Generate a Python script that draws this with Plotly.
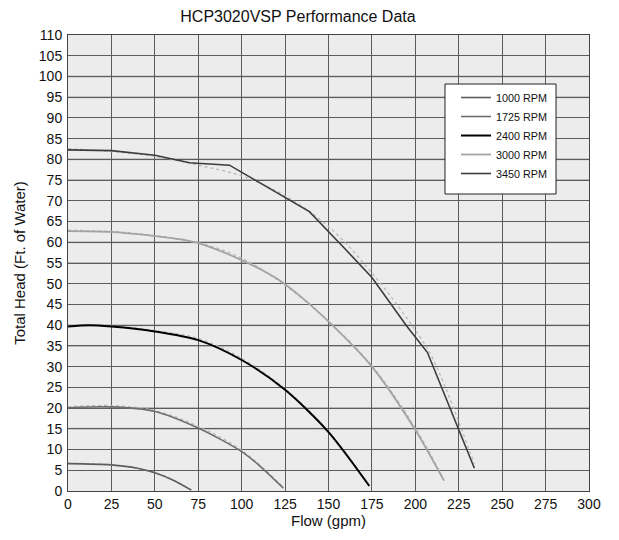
import plotly.graph_objects as go

# ---- data ----
flow_1000 = [0, 25, 40, 50, 60, 71]
head_1000 = [6.6, 6.3, 5.5, 4.4, 2.7, 0.2]
flow_1000_fit = [0, 20, 40, 55, 71]
head_1000_fit = [6.7, 6.4, 5.4, 3.7, 0.3]

flow_1725 = [0, 25, 50, 75, 100, 110, 124]
head_1725 = [20.1, 20.3, 19.2, 15.2, 9.5, 6.2, 0.7]
flow_1725_fit = [0, 25, 50, 75, 100, 124]
head_1725_fit = [20.3, 20.6, 19.4, 15.6, 9.8, 0.9]

flow_2400 = [0, 12, 25, 50, 75, 100, 125, 150, 173.5]
head_2400 = [39.7, 40.0, 39.7, 38.5, 36.4, 31.6, 24.4, 14.2, 1.2]
flow_2400_fit = [0, 25, 50, 75, 100, 125, 150, 173]
head_2400_fit = [40.0, 39.8, 38.7, 36.8, 32.0, 24.6, 14.4, 1.5]

flow_3000 = [0, 25, 50, 65, 75, 100, 120, 134, 151, 175, 200, 216.5]
head_3000 = [62.7, 62.5, 61.5, 60.7, 59.8, 55.7, 51.3, 46.9, 40.5, 30.0, 14.7, 2.5]
flow_3000_fit = [0, 25, 50, 75, 100, 125, 150, 175, 200, 216]
head_3000_fit = [62.9, 62.6, 61.6, 59.9, 56.2, 49.6, 40.9, 30.2, 15.2, 3.0]

flow_3450 = [0, 25, 50, 70, 93, 115, 139, 160, 175, 195, 207, 234]
head_3450 = [82.3, 82.1, 81.0, 79.2, 78.6, 73.3, 67.4, 58.2, 51.5, 39.8, 33.4, 5.5]
flow_3450_fit = [0, 25, 50, 75, 100, 125, 150, 175, 200, 210, 234]
head_3450_fit = [82.6, 81.9, 80.7, 78.6, 76.0, 71.2, 63.8, 52.6, 38.8, 32.0, 6.5]

series_names = ["1000 RPM", "1725 RPM", "2400 RPM", "3000 RPM", "3450 RPM"]
series_colors = ["#5e5e5e", "#6e6e6e", "#000000", "#a3a3a3", "#3c3c3c"]

x_ticks = list(range(0, 301, 25))
y_ticks = list(range(0, 111, 5))
y_light = [15, 20, 35, 40, 55, 60, 75, 80, 95, 100]

FONT = "Liberation Sans, Arial, Helvetica, sans-serif"

fig = go.Figure()

# dotted companion curves
fits = [(flow_1000_fit, head_1000_fit), (flow_1725_fit, head_1725_fit),
        (flow_2400_fit, head_2400_fit), (flow_3000_fit, head_3000_fit),
        (flow_3450_fit, head_3450_fit)]
for fx, fy in fits:
    fig.add_trace(go.Scatter(x=fx, y=fy, mode="lines", showlegend=False,
                             hoverinfo="skip",
                             line=dict(color="#b8b8b8", width=1.3, dash="dot", shape="spline")))

solid = [(flow_1000, head_1000), (flow_1725, head_1725), (flow_2400, head_2400),
         (flow_3000, head_3000), (flow_3450, head_3450)]
widths = [1.6, 1.6, 2, 1.8, 1.6]
shapes = ["spline", "spline", "spline", "spline", "linear"]
for (fx, fy), name, col, w, sh in zip(solid, series_names, series_colors, widths, shapes):
    fig.add_trace(go.Scatter(x=fx, y=fy, mode="lines", name=name,
                             line=dict(color=col, width=w, shape=sh, smoothing=0.8)))

# light (anti-aliased look) horizontal grid lines
for v in y_light:
    fig.add_shape(type="line", xref="paper", x0=0, x1=1, yref="y", y0=v, y1=v,
                  layer="between", line=dict(color="#b8b8b8", width=2))

# legend frame
fig.add_shape(type="rect", xref="paper", yref="paper",
              x0=0.7236, x1=0.9367, y0=0.6513, y1=0.8925,
              layer="above", fillcolor="white", line=dict(color="#222222", width=1))

fig.update_layout(
    width=611, height=532,
    margin=dict(l=60, r=30, t=27, b=49, autoexpand=False),
    paper_bgcolor="white",
    plot_bgcolor="#ececec",
    font=dict(family=FONT, size=14, color="#111111"),
    title=dict(text="HCP3020VSP Performance Data", x=0.4746, xanchor="center",
               y=0.985, yanchor="middle", font=dict(size=16, family=FONT, color="#111111")),
    showlegend=True,
    legend=dict(x=0.7447, y=0.8947, xanchor="left", yanchor="top",
                bgcolor="rgba(0,0,0,0)", borderwidth=0,
                font=dict(size=10.8, family=FONT, color="#111111"),
                tracegroupgap=0, itemwidth=30),
)
fig.update_xaxes(range=[0, 300], tickvals=x_ticks, showgrid=True, gridcolor="#5c5c5c",
                 gridwidth=1, zeroline=False, showline=True, linecolor="#444444",
                 linewidth=1, mirror=True, ticks="", ticklabelstandoff=0,
                 title=dict(text="Flow (gpm)", font=dict(size=15, family=FONT), standoff=4),
                 automargin=False)
fig.update_yaxes(range=[0, 110], tickvals=y_ticks, showgrid=True, gridcolor="#5c5c5c",
                 gridwidth=1, zeroline=False, showline=True, linecolor="#444444",
                 linewidth=1, mirror=True, ticks="", ticklabelstandoff=2,
                 title=dict(text="Total Head (Ft. of Water)", font=dict(size=15, family=FONT),
                            standoff=9),
                 automargin=False)

fig.write_html("out.html")
